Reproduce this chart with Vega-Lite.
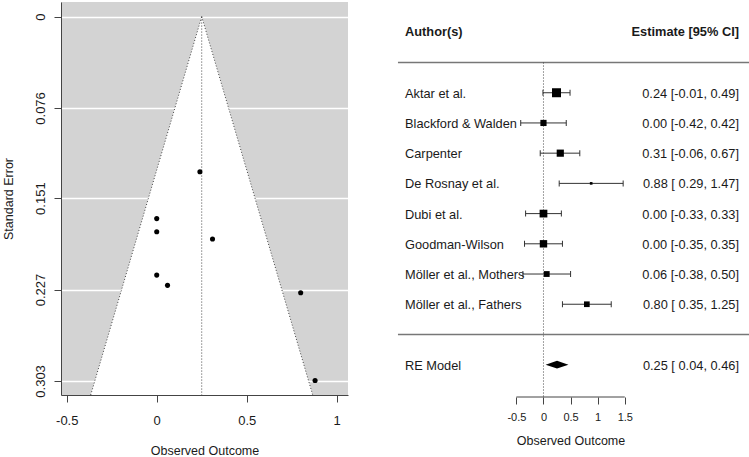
{
  "$schema": "https://vega.github.io/schema/vega-lite/v6.json",
  "padding": {"left": 2, "top": 2, "right": 0, "bottom": 0},
  "background": "white",
  "spacing": 44,
  "config": {
    "font": "Liberation Sans",
    "view": {"stroke": null},
    "axis": {"domainColor": "#444", "tickColor": "#444", "labelColor": "#1a1a1a", "titleColor": "#1a1a1a", "titleFontWeight": "normal", "labelFont": "Liberation Sans", "titleFont": "Liberation Sans"}
  },
  "datasets": {
    "studies": [
      {"author": "Aktar et al.", "est": 0.24, "lb": -0.01, "ub": 0.49, "se": 0.129, "weight": 16.8, "label": "0.24 [-0.01, 0.49]"},
      {"author": "Blackford & Walden", "est": 0.00, "lb": -0.42, "ub": 0.42, "se": 0.215, "weight": 11.7, "label": "0.00 [-0.42, 0.42]"},
      {"author": "Carpenter", "est": 0.31, "lb": -0.06, "ub": 0.67, "se": 0.185, "weight": 13.3, "label": "0.31 [-0.06, 0.67]"},
      {"author": "De Rosnay et al.", "est": 0.88, "lb": 0.29, "ub": 1.47, "se": 0.3026, "weight": 8.0, "label": "0.88 [ 0.29, 1.47]"},
      {"author": "Dubi et al.", "est": 0.00, "lb": -0.33, "ub": 0.33, "se": 0.168, "weight": 14.3, "label": "0.00 [-0.33, 0.33]"},
      {"author": "Goodman-Wilson", "est": 0.00, "lb": -0.35, "ub": 0.35, "se": 0.179, "weight": 13.7, "label": "0.00 [-0.35, 0.35]"},
      {"author": "Möller et al., Mothers", "est": 0.06, "lb": -0.38, "ub": 0.50, "se": 0.2235, "weight": 11.2, "label": "0.06 [-0.38, 0.50]"},
      {"author": "Möller et al., Fathers", "est": 0.80, "lb": 0.35, "ub": 1.25, "se": 0.2297, "weight": 11.0, "label": "0.80 [ 0.35, 1.25]"}
    ],
    "funnel": [
      {"se": 0, "lo": 0.25, "hi": 0.25},
      {"se": 0.3147, "lo": -0.367, "hi": 0.867}
    ],
    "summary": [
      {"model": "RE Model", "est": 0.25, "lb": 0.04, "ub": 0.46, "label": "0.25 [ 0.04, 0.46]"}
    ]
  },
  "hconcat": [
    {
      "width": 287,
      "height": 393,
      "view": {"fill": "#d3d3d3", "stroke": null},
      "layer": [
        {
          "data": {"name": "funnel"},
          "mark": {"type": "area", "orient": "horizontal", "fill": "white"},
          "encoding": {
            "y": {"field": "se", "type": "quantitative",
              "scale": {"domain": [-0.0121, 0.3147], "reverse": true, "nice": false, "zero": false},
              "axis": {"values": [0, 0.076, 0.151, 0.227, 0.303], "title": "Standard Error", "labelExpr": "datum.value + ''",
                "grid": true, "gridColor": "white", "gridWidth": 1.5, "tickSize": 7, "labelAngle": -90, "labelAlign": "center",
                "labelBaseline": "alphabetic", "labelPadding": 10, "labelFontSize": 13, "titleFontSize": 12.5, "titlePadding": 19}},
            "x": {"field": "lo", "type": "quantitative",
              "scale": {"domain": [-0.532, 1.063], "nice": false, "zero": false},
              "axis": {"values": [-0.5, 0, 0.5, 1], "title": "Observed Outcome", "labelExpr": "datum.value + ''", "grid": false,
                "tickSize": 7, "labelPadding": 12, "labelFontSize": 13, "titleFontSize": 12.5, "titlePadding": 17}},
            "x2": {"field": "hi"}
          }
        },
        {
          "data": {"name": "funnel"},
          "mark": {"type": "line", "stroke": "#444", "strokeWidth": 1, "strokeDash": [1, 2]},
          "encoding": {
            "x": {"field": "lo", "type": "quantitative"},
            "y": {"field": "se", "type": "quantitative"}
          }
        },
        {
          "data": {"name": "funnel"},
          "mark": {"type": "line", "stroke": "#444", "strokeWidth": 1, "strokeDash": [1, 2]},
          "encoding": {
            "x": {"field": "hi", "type": "quantitative"},
            "y": {"field": "se", "type": "quantitative"}
          }
        },
        {
          "data": {"name": "summary"},
          "mark": {"type": "rule", "stroke": "#444", "strokeWidth": 1, "strokeDash": [1, 2]},
          "encoding": {
            "x": {"field": "est", "type": "quantitative"},
            "y": {"datum": 0},
            "y2": {"datum": 0.3147}
          }
        },
        {
          "data": {"name": "studies"},
          "mark": {"type": "point", "filled": true, "color": "black", "opacity": 1, "size": 26},
          "encoding": {
            "x": {"field": "est", "type": "quantitative"},
            "y": {"field": "se", "type": "quantitative"}
          }
        }
      ]
    },
    {
      "width": 357,
      "height": 395,
      "layer": [
        {
          "data": {"values": [{}]},
          "mark": {"type": "rule", "stroke": "#777", "strokeWidth": 1.5},
          "encoding": {
            "x": {"datum": -2.685, "type": "quantitative",
              "scale": {"domain": [-2.795, 3.792], "nice": false, "zero": false},
              "axis": {"values": [-0.5, 0, 0.5, 1, 1.5], "title": "Observed Outcome", "labelExpr": "datum.value + ''", "grid": false,
                "domain": false, "tickSize": 7, "labelPadding": 7, "labelFontSize": 11, "titleFontSize": 12.5, "titlePadding": 12}},
            "x2": {"datum": 3.792},
            "y": {"datum": 0, "type": "quantitative",
              "scale": {"domain": [-2.003, 11.07], "reverse": true, "nice": false, "zero": false}, "axis": null}
          }
        },
        {
          "data": {"values": [{}]},
          "mark": {"type": "rule", "stroke": "#777", "strokeWidth": 1.5},
          "encoding": {
            "x": {"datum": -2.685},
            "x2": {"datum": 3.792},
            "y": {"datum": 9, "axis": null}
          }
        },
        {
          "data": {"values": [{}]},
          "mark": {"type": "text", "text": "Author(s)", "fontWeight": "bold", "fontSize": 12.8, "align": "left", "baseline": "middle", "color": "#1a1a1a"},
          "encoding": {
            "x": {"datum": -2.555},
            "y": {"datum": -1, "axis": null}
          }
        },
        {
          "data": {"values": [{}]},
          "mark": {"type": "text", "text": "Estimate [95% CI]", "fontWeight": "bold", "fontSize": 12.8, "align": "right", "baseline": "middle", "color": "#1a1a1a"},
          "encoding": {
            "x": {"datum": 3.607},
            "y": {"datum": -1, "axis": null}
          }
        },
        {
          "data": {"values": [{}]},
          "mark": {"type": "rule", "stroke": "#444", "strokeWidth": 1, "strokeDash": [1, 2]},
          "encoding": {
            "x": {"datum": 0},
            "y": {"datum": 0, "axis": null},
            "y2": {"datum": 11.3}
          }
        },
        {
          "data": {"values": [{}]},
          "mark": {"type": "rule", "stroke": "#444", "strokeWidth": 1},
          "encoding": {
            "x": {"datum": -0.5},
            "x2": {"datum": 1.5},
            "y": {"datum": 11.07, "axis": null}
          }
        },
        {
          "data": {"name": "studies"},
          "transform": [{"window": [{"op": "row_number", "as": "i"}]}],
          "layer": [
            {
              "mark": {"type": "text", "fontSize": 12.8, "align": "left", "baseline": "middle", "dy": 1, "color": "#1a1a1a"},
              "encoding": {
                "x": {"datum": -2.555},
                "y": {"field": "i", "type": "quantitative", "axis": null},
                "text": {"field": "author"}
              }
            },
            {
              "mark": {"type": "text", "fontSize": 12.8, "align": "right", "baseline": "middle", "dy": 1, "color": "#1a1a1a"},
              "encoding": {
                "x": {"datum": 3.607},
                "y": {"field": "i", "type": "quantitative", "axis": null},
                "text": {"field": "label"}
              }
            },
            {
              "mark": {"type": "rule", "stroke": "#333", "strokeWidth": 1},
              "encoding": {
                "x": {"field": "lb", "type": "quantitative"},
                "x2": {"field": "ub"},
                "y": {"field": "i", "type": "quantitative", "axis": null}
              }
            },
            {
              "mark": {"type": "tick", "orient": "vertical", "color": "#333", "size": 6, "thickness": 1, "opacity": 1},
              "encoding": {
                "x": {"field": "lb", "type": "quantitative"},
                "y": {"field": "i", "type": "quantitative", "axis": null}
              }
            },
            {
              "mark": {"type": "tick", "orient": "vertical", "color": "#333", "size": 6, "thickness": 1, "opacity": 1},
              "encoding": {
                "x": {"field": "ub", "type": "quantitative"},
                "y": {"field": "i", "type": "quantitative", "axis": null}
              }
            },
            {
              "mark": {"type": "point", "shape": "square", "filled": true, "color": "black", "opacity": 1},
              "encoding": {
                "x": {"field": "est", "type": "quantitative"},
                "y": {"field": "i", "type": "quantitative", "axis": null},
                "size": {"field": "weight", "type": "quantitative", "scale": {"domain": [8.0, 16.8], "range": [7, 81]}, "legend": null}
              }
            }
          ]
        },
        {
          "data": {"name": "summary"},
          "layer": [
            {
              "mark": {"type": "text", "fontSize": 12.8, "align": "left", "baseline": "middle", "dy": 1, "color": "#1a1a1a"},
              "encoding": {
                "x": {"datum": -2.555},
                "y": {"datum": 10, "axis": null},
                "text": {"field": "model"}
              }
            },
            {
              "mark": {"type": "text", "fontSize": 12.8, "align": "right", "baseline": "middle", "dy": 1, "color": "#1a1a1a"},
              "encoding": {
                "x": {"datum": 3.607},
                "y": {"datum": 10, "axis": null},
                "text": {"field": "label"}
              }
            },
            {
              "mark": {"type": "point", "shape": "M-1,0L0,-0.34L1,0L0,0.34Z", "filled": true, "color": "black", "opacity": 1, "size": 520},
              "encoding": {
                "x": {"field": "est", "type": "quantitative"},
                "y": {"datum": 10, "axis": null}
              }
            }
          ]
        }
      ]
    }
  ]
}
